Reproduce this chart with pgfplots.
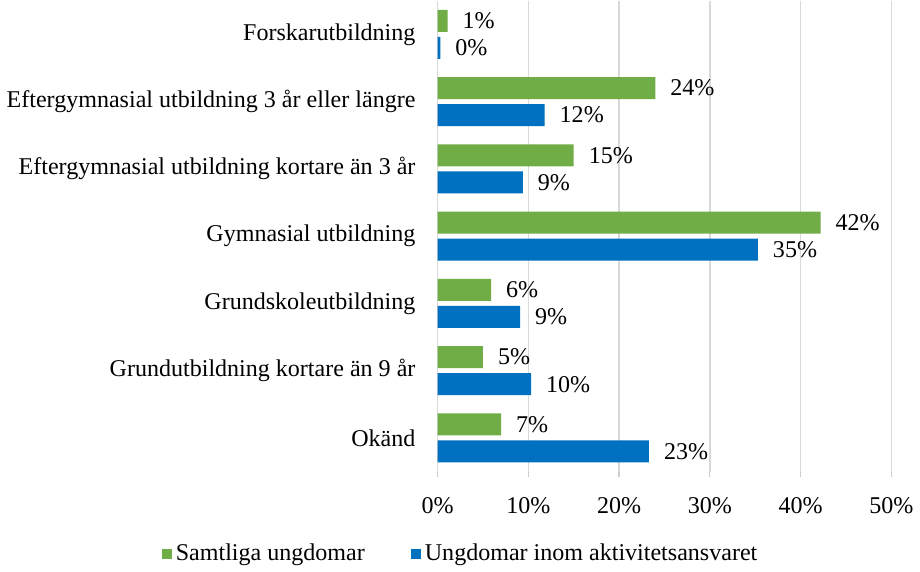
\documentclass[border=0pt]{standalone}
\usepackage{pgfplots}
\pgfplotsset{compat=1.18}
\usepackage{fontspec}
\setmainfont{Liberation Serif}
\definecolor{sgreen}{HTML}{70AD47}
\definecolor{sblue}{HTML}{0070C0}

\begin{document}
\begin{tikzpicture}[font=\fontsize{12}{14}\selectfont]
\begin{axis}[
  scale only axis, width=226.5pt, height=235pt,
  xbar, bar width=11pt,
  xmin=0, xmax=50, ymin=-0.5, ymax=6.5, y dir=reverse,
  xtick={0,10,...,50},
  xticklabel={\pgfmathprintnumber{\tick}\%},
  /pgf/number format/assume math mode=true,
  ytick={0,...,6},
  yticklabels={Forskarutbildning,
    Eftergymnasial utbildning 3 år eller längre\hspace{3pt},
    Eftergymnasial utbildning kortare än 3 år\hspace{2pt},
    Gymnasial utbildning\hspace{3pt},
    Grundskoleutbildning,
    Grundutbildning kortare än 9 år\hspace{2pt},
    Okänd},
  yticklabel style={xshift=-5pt},
  xticklabel style={yshift=-7pt},
  axis line style={draw=none},
  ytick style={draw=none},
  xtick style={draw=gray!40, line width=0.6pt},
  tick align=outside, xtick pos=bottom, major tick length=2.5pt,
  xmajorgrids, major grid style={gray!30, line width=0.75pt},
  point meta=x,
  nodes near coords={\pgfmathprintnumber[fixed,precision=0]{\pgfplotspointmeta}\%},
  nodes near coords align=horizontal,
  every node near coord/.append style={xshift=4pt, black},
  legend style={at={(0.053,-0.175)}, anchor=center, legend columns=2, draw=none,
    /tikz/every even column/.append style={column sep=21pt}},
]
\addplot[draw=none, fill=sgreen, bar shift=6.75pt,
  legend image code/.code={\fill[sgreen] (0pt,-2.5pt) rectangle (5pt,2.5pt);}]
  coordinates {(1.1,0) (24,1) (15,2) (42.2,3) (5.9,4) (5,5) (7,6)};
\addplot[draw=none, fill=sblue, bar shift=-6.75pt,
  legend image code/.code={\fill[sblue] (0pt,-2.5pt) rectangle (5pt,2.5pt);}]
  coordinates {(0.3,0) (11.8,1) (9.4,2) (35.3,3) (9.1,4) (10.3,5) (23.3,6)};
\legend{Samtliga ungdomar, Ungdomar inom aktivitetsansvaret}
\end{axis}
\end{tikzpicture}
\end{document}
